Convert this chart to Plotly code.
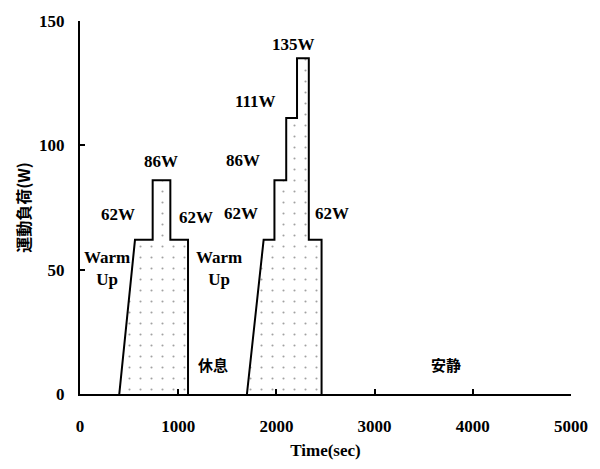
import plotly.graph_objects as go

# Exercise protocol: warm-up ramp followed by constant-load stages
# First session
s1_ramp_start = 400
s1_edges = [560, 740, 920, 1100]          # stage boundaries (sec)
s1_loads = [62, 86, 62]                   # load per stage (W)

# Second session (incremental)
s2_ramp_start = 1700
s2_edges = [1870, 1980, 2100, 2210, 2330, 2460]
s2_loads = [62, 86, 111, 135, 62]

x_ticks = [0, 1000, 2000, 3000, 4000, 5000]
y_ticks = [0, 50, 100, 150]

# Stage labels: (text, time, load position)
stage_labels = [
    ("62W", 389, 72.2), ("86W", 828, 93.7), ("62W", 1178, 71.0),
    ("Warm<br>Up", 270, 50.4), ("Warm<br>Up", 1417, 50.4),
    ("62W", 1637, 72.6), ("86W", 1657, 94.0), ("111W", 1786, 117.5),
    ("135W", 2176, 140.5), ("62W", 2565, 72.6),
]
phase_labels = [("休息", 1357, 11.9), ("安静", 3723, 11.9)]


def outline(start, edges, loads):
    """Ramp from zero to the first stage, then a staircase back down to zero."""
    xs, ys = [start, edges[0]], [0, loads[0]]
    for i, w in enumerate(loads):
        if i > 0:
            xs.append(edges[i]); ys.append(w)
        xs.append(edges[i + 1]); ys.append(w)
    xs.append(edges[-1]); ys.append(0)
    return xs, ys


fig = go.Figure()
for st, ed, ld in [(s1_ramp_start, s1_edges, s1_loads), (s2_ramp_start, s2_edges, s2_loads)]:
    xs, ys = outline(st, ed, ld)
    fig.add_trace(go.Scatter(
        x=xs, y=ys, mode="lines",
        line=dict(color="black", width=2),
        fill="toself", fillcolor="white",
        fillpattern=dict(shape=".", size=11, solidity=0.03,
                         fgcolor="#444", bgcolor="white", fillmode="overlay"),
        hoverinfo="skip", showlegend=False,
    ))

serif = "Liberation Serif"
for txt, x, y in stage_labels:
    fig.add_annotation(x=x, y=y, text=f"<b>{txt}</b>", showarrow=False,
                       font=dict(family=serif, size=17, color="black"))
for txt, x, y in phase_labels:
    fig.add_annotation(x=x, y=y, text=f"<b>{txt}</b>", showarrow=False,
                       font=dict(family="Noto Sans CJK JP", size=15, color="black"))

fig.update_layout(
    width=600, height=469,
    margin=dict(l=80, r=19, t=17, b=74),
    paper_bgcolor="white", plot_bgcolor="white",
    showlegend=False,
    xaxis=dict(range=[0, 5000], tickvals=x_ticks, ticks="inside", ticklen=5,
               tickwidth=1.5, tickcolor="black", showline=True, linecolor="black",
               linewidth=2, showgrid=False, zeroline=False,
               ticklabelstandoff=16,
               tickfont=dict(family=serif, size=17, color="black", weight="bold"),
               title=dict(text="<b>Time(sec)</b>", standoff=9,
                          font=dict(family=serif, size=17, color="black"))),
    yaxis=dict(range=[0, 150], tickvals=y_ticks, ticks="inside", ticklen=5,
               tickwidth=1.5, tickcolor="black", showline=True, linecolor="black",
               linewidth=2, showgrid=False, zeroline=False,
               ticklabelstandoff=10,
               tickfont=dict(family=serif, size=17, color="black", weight="bold"),
               title=dict(text="<b>運動負荷(W)</b>", standoff=4,
                          font=dict(family="Noto Sans CJK JP", size=16, color="black"))),
)

fig.write_html("out.html")
